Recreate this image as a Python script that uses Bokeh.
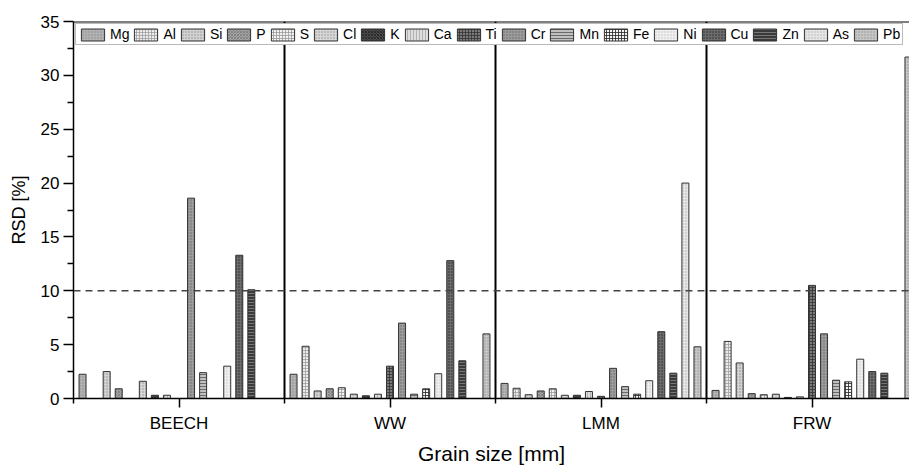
from bokeh.plotting import figure
from bokeh.models import ColumnDataSource, FixedTicker, Span, Legend, LegendItem
from bokeh.embed import file_html
from bokeh.resources import INLINE

groups = ["BEECH", "WW", "LMM", "FRW"]
elements = ["Mg", "Al", "Si", "P", "S", "Cl", "K", "Ca", "Ti", "Cr",
            "Mn", "Fe", "Ni", "Cu", "Zn", "As", "Pb"]

# RSD [%] per element for BEECH, WW, LMM, FRW (None = not reported)
Mg = [2.25, 2.25, 1.4, 0.75]
Al = [None, 4.85, 0.95, 5.3]
Si = [2.5, 0.7, 0.35, 3.3]
P = [0.9, 0.9, 0.7, 0.45]
S = [None, 1.0, 0.9, 0.35]
Cl = [1.6, 0.4, 0.3, 0.4]
K = [0.3, 0.25, 0.3, 0.1]
Ca = [0.3, 0.4, 0.65, 0.15]
Ti = [None, 3.0, 0.2, 10.5]
Cr = [18.6, 7.0, 2.8, 6.0]
Mn = [2.4, 0.4, 1.1, 1.7]
Fe = [None, 0.9, 0.4, 1.55]
Ni = [3.0, 2.3, 1.65, 3.65]
Cu = [13.3, 12.8, 6.2, 2.5]
Zn = [10.1, 3.5, 2.35, 2.35]
As = [None, None, 20.0, None]
Pb = [None, 6.0, 4.8, 31.7]
series = [Mg, Al, Si, P, S, Cl, K, Ca, Ti, Cr, Mn, Fe, Ni, Cu, Zn, As, Pb]

threshold = 10
y_ticks = [0, 5, 10, 15, 20, 25, 30, 35]

fills = ["#b2b2b2", "#ececec", "#d2d2d2", "#a6a6a6", "#f2f2f2", "#d8d8d8",
         "#4e4e4e", "#dedede", "#7a7a7a", "#9c9c9c", "#c0c0c0", "#f4f4f4",
         "#efefef", "#6c6c6c", "#3a3a3a", "#e6e6e6", "#c6c6c6"]
hatches = [".", "+", ".", "x", "+", ".", "x", "|", "+", ".", "-", "+",
           ".", ".", "-", ".", "."]
hatch_cols = ["#8a8a8a", "#a0a0a0", "#909090", "#7a7a7a", "#9a9a9a", "#8c8c8c",
              "#222222", "#a8a8a8", "#333333", "#666666", "#555555", "#222222",
              "#c4c4c4", "#2a2a2a", "#888888", "#b0b0b0", "#909090"]

n = len(elements)
pitch = 1.0 / 17.5
bar_w = 7.0 / 211.0

FONT = "Liberation Sans"

p = figure(width=909, height=467, output_backend="svg", toolbar_location=None,
           x_range=(0, 836.0 / 211.0), y_range=(0, 35),
           min_border_left=73, min_border_right=0, min_border_top=21,
           min_border_bottom=69)
p.outline_line_color = None
p.grid.visible = False
p.background_fill_color = "white"

items = []
for i, (name, vals) in enumerate(zip(elements, series)):
    xs, tops = [], []
    for g, v in enumerate(vals):
        if v is not None:
            xs.append(g + 0.5 + (i - (n - 1) / 2) * pitch)
            tops.append(v)
    src = ColumnDataSource(dict(x=xs, top=tops))
    r = p.vbar(x="x", top="top", bottom=0, width=bar_w, source=src,
               fill_color=fills[i], line_color="#333333", line_width=1,
               hatch_pattern=hatches[i], hatch_color=hatch_cols[i],
               hatch_scale=3, hatch_weight=0.8)
    items.append(LegendItem(label=name, renderers=[r]))

bounds = [1, 2, 3]
p.segment(x0=bounds, y0=[0] * 3, x1=bounds, y1=[35] * 3,
          line_color="black", line_width=2)

p.add_layout(Span(location=threshold, dimension="width", line_color="#444444",
                  line_width=1.5, line_dash="7 5"))
p.add_layout(Span(location=35, dimension="width", line_color="black",
                  line_width=2))

legend = Legend(items=items, orientation="horizontal", location="top_left")
legend.margin = 2
legend.padding = 2
legend.spacing = 2
legend.glyph_width = 29
legend.glyph_height = 15
legend.label_standoff = 3
legend.label_width = 5
legend.label_height = 15
legend.label_text_font = FONT
legend.label_text_font_size = "14px"
legend.label_text_color = "black"
legend.border_line_color = "#777777"
legend.border_line_width = 1
legend.background_fill_color = "white"
legend.background_fill_alpha = 1
p.add_layout(legend)

xa = p.xaxis[0]
xa.ticker = FixedTicker(ticks=[g + 0.5 for g in range(len(groups))],
                        minor_ticks=[0, 1, 2, 3, 4])
xa.major_label_overrides = {g + 0.5: name for g, name in enumerate(groups)}
xa.axis_label = "Grain size [mm]"
xa.axis_label_text_font = FONT
xa.axis_label_text_font_style = "normal"
xa.axis_label_text_font_size = "21px"
xa.axis_label_standoff = 6
xa.major_label_text_font = FONT
xa.major_label_text_font_size = "17px"
xa.major_label_standoff = 6
xa.major_tick_out = 9
xa.major_tick_in = 0
xa.minor_tick_out = 5
xa.minor_tick_in = 0
xa.axis_line_width = 1.5
xa.major_tick_line_width = 1.5
xa.minor_tick_line_width = 1.5

ya = p.yaxis[0]
ya.ticker = FixedTicker(ticks=y_ticks, minor_ticks=[2.5 + 5 * k for k in range(7)])
ya.axis_label = "RSD [%]"
ya.axis_label_text_font = FONT
ya.axis_label_text_font_style = "normal"
ya.axis_label_text_font_size = "18px"
ya.axis_label_standoff = 9
ya.major_label_text_font = FONT
ya.major_label_text_font_size = "17px"
ya.major_label_standoff = 4
ya.major_tick_out = 10
ya.major_tick_in = 0
ya.minor_tick_out = 6
ya.minor_tick_in = 0
ya.axis_line_width = 1.5
ya.major_tick_line_width = 1.5
ya.minor_tick_line_width = 1.5

for ax in (xa, ya):
    ax.major_label_text_color = "black"
    ax.axis_label_text_color = "black"

open("out.html", "w").write(file_html(p, INLINE))
